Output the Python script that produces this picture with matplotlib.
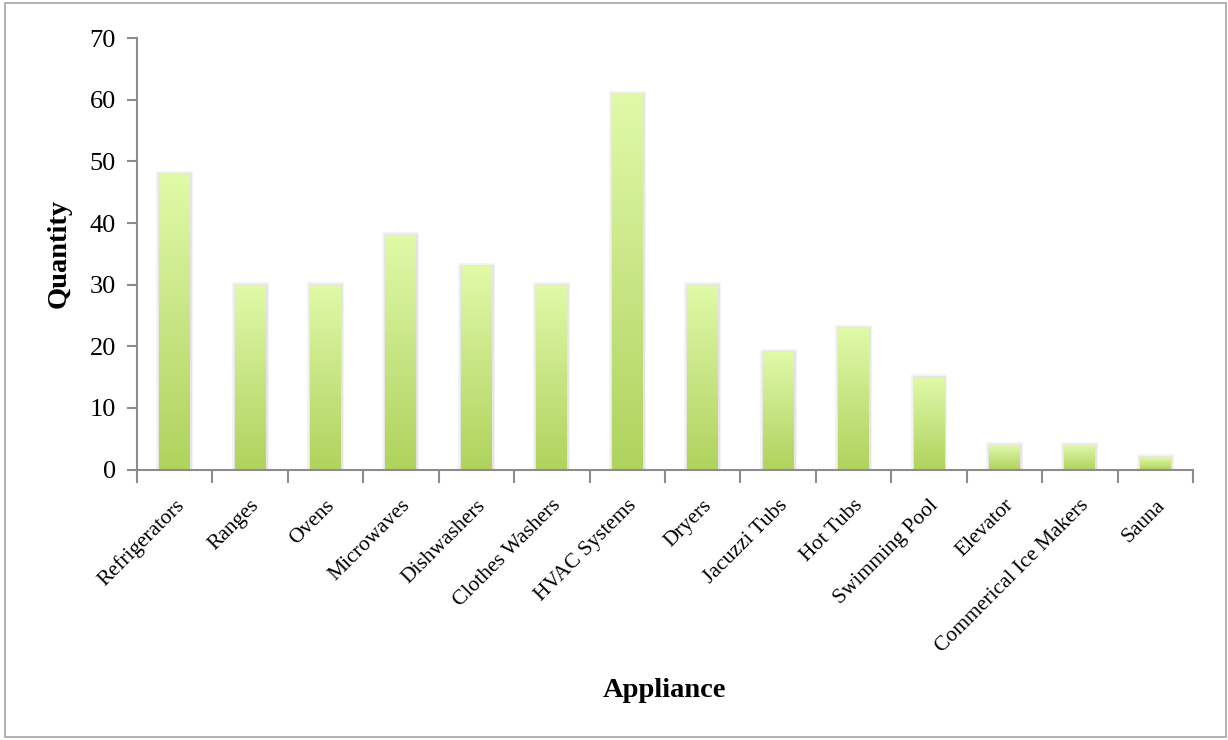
import numpy as np
import matplotlib
matplotlib.use("Agg")
import matplotlib.pyplot as plt
import matplotlib.transforms as mtransforms
from matplotlib.colors import LinearSegmentedColormap
from matplotlib.patches import Rectangle

categories = ["Refrigerators", "Ranges", "Ovens", "Microwaves", "Dishwashers",
              "Clothes Washers", "HVAC Systems", "Dryers", "Jacuzzi Tubs",
              "Hot Tubs", "Swimming Pool", "Elevator", "Commerical Ice Makers", "Sauna"]
quantities = [48, 30, 30, 38, 33, 30, 61, 30, 19, 23, 15, 4, 4, 2]
y_ticks = [0, 10, 20, 30, 40, 50, 60, 70]

plt.rcParams['font.family'] = ['Liberation Serif', 'DejaVu Serif']

fig = plt.figure(figsize=(12.28, 7.40), dpi=100)
ax = fig.add_axes([0.1115, 0.3655, 0.8600, 0.5830])

# figure border
fig.patches.append(Rectangle((0.004, 0.004), 0.994, 0.992, transform=fig.transFigure,
                             fill=False, edgecolor='#a6a6a6', linewidth=1.2, zorder=0))

x = np.arange(len(categories))
width = 0.41
# soft shadow
ax.bar(x, quantities, width=width, color='none', edgecolor='#c8c8c8',
       linewidth=4.0, alpha=0.25, zorder=1)
ax.bar(x, quantities, width=width, color='none', edgecolor='#c8c8c8',
       linewidth=2.0, alpha=0.3, zorder=1)
bars = ax.bar(x, quantities, width=width, color='none', edgecolor='none', zorder=2)

cmap = LinearSegmentedColormap.from_list('g', ['#b0d35c', '#c8e584', '#e0faa8'])
grad = np.linspace(0, 1, 256).reshape(-1, 1)
for b in bars:
    x0, w, h = b.get_x(), b.get_width(), b.get_height()
    ax.imshow(grad, cmap=cmap, origin='lower', aspect='auto',
              extent=(x0, x0 + w, 0, h), zorder=2)

ax.set_xlim(-0.5, len(categories) - 0.5)
ax.set_ylim(0, 70)
ax.set_yticks(y_ticks)
ax.set_yticklabels([str(t) for t in y_ticks], fontsize=19)

ax.set_xticks(x)
ax.set_xticklabels(categories, rotation=45, ha='right', rotation_mode='anchor', fontsize=15.5)
ax.tick_params(axis='x', length=0, pad=19)
ax.set_xticks(np.arange(len(categories) + 1) - 0.5, minor=True)
ax.tick_params(axis='x', which='minor', length=9, width=1.5, color='#8c8c8c')
ax.tick_params(axis='y', length=7, width=1.5, color='#8c8c8c', pad=8)

for s in ['top', 'right']:
    ax.spines[s].set_visible(False)
for s in ['left', 'bottom']:
    ax.spines[s].set_color('#8c8c8c')
    ax.spines[s].set_linewidth(1.5)

ax.set_ylabel('Quantity', fontsize=20.5, fontweight='bold')
ax.yaxis.set_label_coords(-0.0615, 0.5)
ax.set_xlabel('Appliance', fontsize=20.5, fontweight='bold')
ax.xaxis.set_label_coords(0.5, -0.4825)

fig.savefig('out.png', dpi=100)
